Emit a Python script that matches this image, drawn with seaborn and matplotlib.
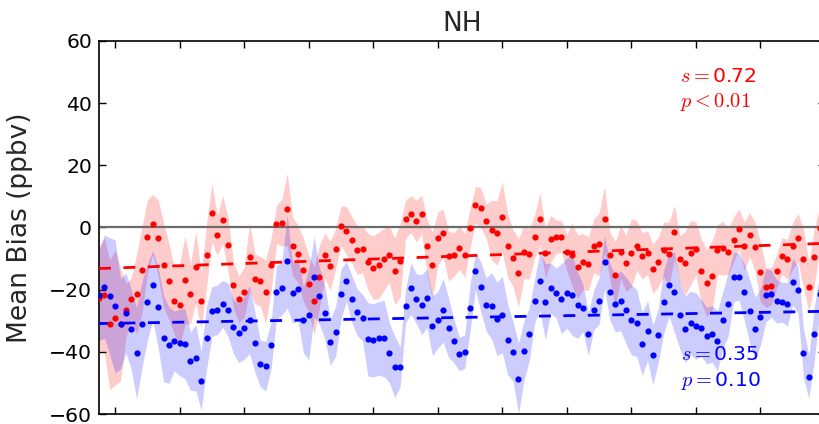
import numpy as np
import pandas as pd
import matplotlib
matplotlib.use("Agg")
import matplotlib.pyplot as plt
import seaborn as sns

# Monthly mean bias (ppbv) for the two products, NH average
red_bias = [
    -22.8, -21.8, -31.2, -29.0, -31.2, -26.6, -23.0, -21.4, -13.6, -2.9,
    1.1, -3.3, -12.0, -17.3, -23.6, -24.9, -16.8, -21.4, -12.8, -23.6,
    -8.9, 4.8, -2.5, 2.5, -5.5, -18.6, -23.0, -20.9, -9.4, -16.5,
    -17.3, -20.7, -12.1, 1.0, 1.6, 5.8, -6.1, -8.5, -13.6, -18.1,
    -23.6, -15.8, -9.0, -12.4, -6.9, 0.6, -1.0, -3.9, -7.3, -7.0,
    -11.0, -12.9, -12.2, -10.2, -8.7, -14.1, -10.7, 2.6, 4.3, 2.1,
    4.2, -6.0, -12.2, -3.5, -1.9, -9.2, -8.7, -6.5, -9.0, -0.3,
    7.3, 6.4, 2.0, -0.8, -1.7, 3.3, -5.9, -9.8, -14.7, -7.9,
    -8.5, -2.9, 2.7, -8.1, -3.6, -3.0, -2.9, -8.0, -8.8, -12.6,
    -11.0, -11.7, -5.9, -5.4, 2.6, -9.0, -15.2, -7.9, -11.5, -8.1,
    -5.8, -9.1, -8.1, -13.3, -11.0, -7.1, -8.4, -1.4, -10.1, -11.5,
    -8.1, -6.8, -13.9, -17.9, -15.6, -7.2, -6.6, -7.8, -3.9, -0.4,
    -6.0, -2.3, -6.2, -14.3, -19.3, -18.9, -14.1, -9.1, -10.2, -5.9,
    -3.3, -10.0, -19.1, -9.6, -0.2,
]
blue_bias = [
    -21.8, -19.0, -22.1, -25.4, -31.0, -27.5, -32.8, -40.5, -31.1, -24.1,
    -18.6, -25.7, -35.7, -37.9, -36.5, -37.0, -37.4, -43.0, -41.9, -49.3,
    -35.4, -27.0, -26.5, -24.5, -26.5, -32.0, -33.9, -32.2, -29.6, -37.0,
    -43.8, -44.6, -37.9, -20.9, -19.5, -10.9, -21.2, -19.7, -29.6, -28.0,
    -15.8, -22.1, -27.4, -36.8, -33.5, -21.3, -17.3, -22.9, -27.2, -29.0,
    -36.0, -36.3, -35.7, -35.7, -40.3, -44.8, -44.8, -25.3, -19.6, -22.9,
    -24.8, -22.8, -31.6, -29.7, -26.7, -32.2, -36.5, -40.7, -40.0, -25.9,
    -14.0, -19.1, -24.8, -25.2, -29.4, -28.0, -36.1, -39.9, -48.6, -39.7,
    -34.4, -23.6, -17.3, -23.9, -19.5, -21.1, -22.9, -21.1, -21.8, -25.0,
    -26.0, -34.3, -26.6, -23.6, -11.1, -20.7, -24.5, -23.6, -26.7, -29.7,
    -30.8, -37.4, -33.2, -41.0, -34.7, -23.9, -18.5, -20.8, -28.2, -32.8,
    -30.7, -31.7, -32.3, -34.8, -34.2, -36.5, -29.8, -24.7, -16.0, -15.8,
    -20.8, -26.9, -32.6, -28.7, -21.8, -21.3, -23.8, -24.0, -24.7, -17.4,
    -20.0, -40.5, -48.0, -34.2, -21.3,
]

# Half-width of the shaded spread around each monthly value
red_spread = [
    16.6, 18.5, 20.9, 21.7, 18.2, 8.6, 6.7, 12.9, 13.9, 11.8,
    9.6, 12.3, 13.7, 12.3, 10.7, 13.4, 14.2, 9.6, 11.5, 9.1,
    10.2, 9.4, 6.4, 7.8, 8.6, 7.5, 7.5, 8.0, 11.0, 8.0,
    8.0, 10.2, 8.6, 6.2, 7.5, 11.7, 9.6, 9.1, 10.2, 9.1,
    11.0, 10.2, 7.2, 8.0, 6.4, 6.4, 7.8, 7.5, 7.8, 7.5,
    9.1, 10.2, 10.7, 9.9, 9.1, 10.7, 11.8, 6.2, 5.9, 6.7,
    6.2, 8.6, 10.7, 8.6, 7.8, 8.0, 7.0, 7.0, 7.0, 6.4,
    5.9, 6.4, 5.6, 9.6, 10.4, 11.3, 10.2, 9.1, 11.0, 8.6,
    8.0, 7.0, 8.6, 8.0, 7.5, 5.4, 5.1, 5.9, 10.2, 10.2,
    9.1, 8.6, 8.6, 10.2, 10.7, 7.5, 10.7, 8.6, 9.1, 11.0,
    8.0, 7.5, 7.0, 8.0, 8.0, 8.8, 10.2, 8.6, 7.5, 10.2,
    10.4, 8.6, 10.2, 10.7, 11.3, 8.0, 8.6, 7.5, 7.2, 6.4,
    7.8, 7.0, 8.0, 9.6, 6.4, 5.9, 5.4, 5.9, 6.4, 7.5,
    7.8, 9.6, 8.0, 9.1, 7.0,
]
blue_spread = [
    14.5, 16.6, 18.8, 21.4, 14.5, 12.9, 12.9, 14.7, 13.9, 12.3,
    11.3, 12.9, 13.9, 12.3, 9.6, 10.7, 11.3, 9.4, 10.7, 9.4,
    10.2, 8.0, 8.0, 7.5, 8.6, 8.6, 9.6, 10.2, 11.0, 9.6,
    7.5, 8.0, 7.5, 8.6, 8.6, 15.0, 9.6, 10.2, 10.7, 14.5,
    12.9, 9.1, 8.6, 7.5, 8.0, 8.0, 6.4, 7.5, 7.5, 7.5,
    11.8, 11.8, 11.8, 12.3, 9.6, 9.9, 6.4, 5.4, 8.3, 8.0,
    9.6, 9.4, 9.6, 9.1, 10.2, 9.6, 7.0, 5.4, 5.4, 7.5,
    5.9, 8.0, 8.6, 10.7, 11.8, 12.3, 11.3, 9.6, 11.3, 9.6,
    8.6, 7.0, 9.6, 12.3, 8.0, 8.0, 11.3, 11.3, 12.9, 10.7,
    7.5, 7.0, 6.4, 7.5, 8.6, 9.1, 9.1, 9.6, 10.7, 11.3,
    10.7, 10.2, 9.6, 9.6, 8.6, 10.2, 10.2, 12.9, 10.7, 10.7,
    10.2, 10.7, 9.1, 9.1, 9.1, 9.6, 9.1, 10.2, 8.0, 7.5,
    9.1, 10.2, 10.2, 9.1, 8.6, 7.5, 7.0, 6.4, 7.0, 7.5,
    7.5, 8.0, 7.0, 8.6, 6.4,
]

# Linear trends: slope (ppbv per year) and value at the first month
trend_slope = {"red": 0.72, "blue": 0.35}
trend_start = {"red": -13.2, "blue": -30.9}
trend_labels = {
    "red": [r"$s=$0.72", r"$p<0.01$"],
    "blue": [r"$s=$0.35", r"$p=$0.10"],
}

title = "NH"
ylabel = "Mean Bias (ppbv)"
yticks = [-60, -40, -20, 0, 20, 40, 60]

sns.set_style("ticks")
plt.rcParams["font.family"] = ["DejaVu Sans"]
plt.rcParams["mathtext.fontset"] = "cm"
plt.rcParams["axes.unicode_minus"] = True

months = np.arange(len(red_bias))
df = pd.DataFrame({
    "month": np.concatenate([months, months]),
    "bias": np.concatenate([red_bias, blue_bias]),
    "spread": np.concatenate([red_spread, blue_spread]),
    "series": ["red"] * len(months) + ["blue"] * len(months),
})

fig = plt.figure(figsize=(8.2, 4.24), dpi=100)
ax = fig.add_axes([99 / 820, 10 / 424, 726 / 820, 373 / 424])

colors = {"red": "#ff0000", "blue": "#0000ff"}

for name in ["red", "blue"]:
    sub = df[df["series"] == name]
    ax.fill_between(sub["month"], sub["bias"] - sub["spread"],
                    sub["bias"] + sub["spread"], color=colors[name],
                    alpha=0.2, linewidth=0, zorder=1)

ax.axhline(0, color="0.42", lw=1.6, zorder=2)

for name in ["red", "blue"]:
    sub = df[df["series"] == name]
    trend = trend_start[name] + trend_slope[name] / 12.0 * sub["month"]
    sns.lineplot(x=sub["month"], y=trend, ax=ax, color=colors[name],
                 lw=2.0, linestyle=(0, (4.3, 4.5)), zorder=3)
    sns.scatterplot(x=sub["month"], y=sub["bias"], ax=ax, color=colors[name],
                    s=20, linewidth=0, zorder=4)

# Trend annotations
for name, (xpos, y1, y2) in {"red": (108.0, 48.6, 40.3),
                            "blue": (108.2, -41.0, -49.3)}.items():
    ax.text(xpos, y1, trend_labels[name][0], color=colors[name],
            fontsize=14.7, ha="left", va="center")
    ax.text(xpos, y2, trend_labels[name][1], color=colors[name],
            fontsize=14.7, ha="left", va="center")

ax.set_xlim(0, 135)
ax.set_ylim(-60, 60)
ax.set_xticks(np.arange(3, 136, 12))
ax.set_xticklabels([])
ax.set_yticks(yticks)
ax.set_xlabel("")
ax.set_ylabel(ylabel, fontsize=19)
ax.yaxis.set_label_coords(-0.091, 0.5)
ax.set_title(title, fontsize=19, pad=7)

ax.tick_params(axis="both", which="major", direction="in", length=5,
               width=1.0, top=True, right=True, labelsize=14.7, pad=5,
               colors="black")
for sp in ax.spines.values():
    sp.set_visible(True)
    sp.set_linewidth(1.2)
    sp.set_color("black")

fig.savefig("out.png", dpi=100)
